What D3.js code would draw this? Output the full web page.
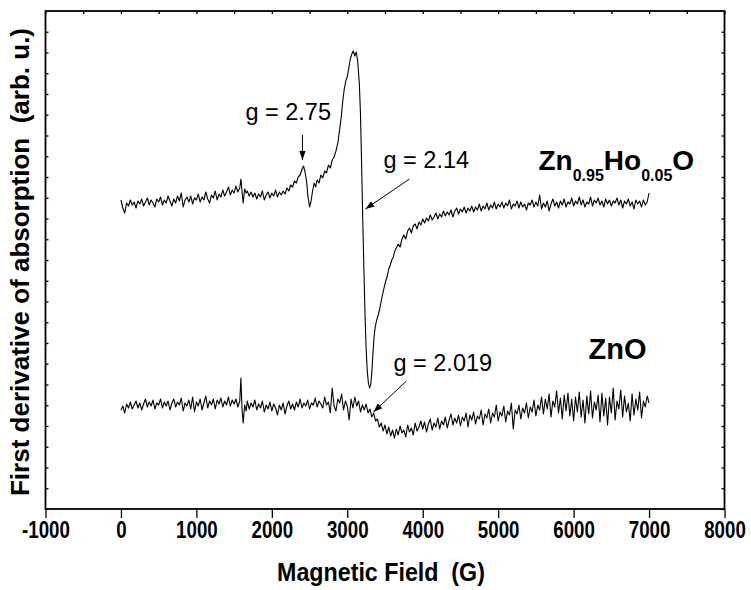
<!DOCTYPE html>
<html><head><meta charset="utf-8">
<script src="https://cdn.jsdelivr.net/npm/d3@7"></script>
<style>body{margin:0;background:#fff}svg{display:block}text{font-family:"Liberation Sans",Arial,sans-serif;white-space:pre}</style>
</head><body><svg id="c" width="751" height="590"></svg>
<script>
const xTicks=[-1000,0,1000,2000,3000,4000,5000,6000,7000,8000];
const xLabel="Magnetic Field  (G)";
const yLabel="First derivative of absorption  (arb. u.)";
const hoSeries=[[0,309],[25,301],[50,296],[75,306],[100,303],[125,309],[150,304],[175,307],[200,301],[225,308],[250,305],[275,310],[300,303],[325,307],[350,311],[375,304],[400,309],[425,306],[450,302],[475,310],[500,307],[525,312],[550,304],[575,309],[600,306],[625,313],[650,308],[675,303],[700,310],[725,306],[750,313],[775,308],[800,316],[825,302],[850,309],[875,312],[900,307],[925,313],[950,305],[975,311],[1000,309],[1025,315],[1050,307],[1075,312],[1100,309],[1125,317],[1150,310],[1175,306],[1200,314],[1225,311],[1250,318],[1275,309],[1300,315],[1325,312],[1350,319],[1375,313],[1400,317],[1425,322],[1450,314],[1475,319],[1500,316],[1525,323],[1550,317],[1575,321],[1590,330],[1605,318],[1620,306],[1640,320],[1660,316],[1675,318],[1700,313],[1725,317],[1750,312],[1775,316],[1800,310],[1825,315],[1850,312],[1875,318],[1900,309],[1925,314],[1950,317],[1975,311],[2000,316],[2025,313],[2050,319],[2075,312],[2100,317],[2125,314],[2150,318],[2175,315],[2200,321],[2225,318],[2250,324],[2275,322],[2300,328],[2325,326],[2350,332],[2375,334],[2400,340],[2420,343],[2440,337],[2460,328],[2480,312],[2500,302],[2520,308],[2540,318],[2560,326],[2580,322],[2600,329],[2625,326],[2650,334],[2675,331],[2700,338],[2725,336],[2750,344],[2775,341],[2800,349],[2825,352],[2850,358],[2875,366],[2900,380],[2920,392],[2940,408],[2960,420],[2980,428],[3000,432],[3020,441],[3040,450],[3060,455],[3080,458],[3100,453],[3120,457],[3140,446],[3160,425],[3175,395],[3190,345],[3205,290],[3220,240],[3235,195],[3250,160],[3265,138],[3280,126],[3295,121],[3310,124],[3325,136],[3340,155],[3355,172],[3370,182],[3390,189],[3410,194],[3430,200],[3450,208],[3470,215],[3490,222],[3510,228],[3530,233],[3550,240],[3570,244],[3590,249],[3610,252],[3630,258],[3650,261],[3675,265],[3700,262],[3725,270],[3750,274],[3775,270],[3800,278],[3825,281],[3850,276],[3875,283],[3900,285],[3925,280],[3950,287],[3975,284],[4000,290],[4025,286],[4050,291],[4075,288],[4100,294],[4125,289],[4150,292],[4175,296],[4200,290],[4225,295],[4250,292],[4275,298],[4300,293],[4325,297],[4350,294],[4375,299],[4400,292],[4425,298],[4450,301],[4475,295],[4500,300],[4525,297],[4550,302],[4575,296],[4600,301],[4625,298],[4650,303],[4675,297],[4700,302],[4725,299],[4750,305],[4775,298],[4800,303],[4825,300],[4850,306],[4875,299],[4900,304],[4925,301],[4950,307],[4975,300],[5000,305],[5025,302],[5050,307],[5075,301],[5100,306],[5125,303],[5150,309],[5175,300],[5200,305],[5225,303],[5250,308],[5275,301],[5300,307],[5325,302],[5350,305],[5375,299],[5400,306],[5425,304],[5450,309],[5475,302],[5500,307],[5525,303],[5550,314],[5575,300],[5600,306],[5625,302],[5650,308],[5675,298],[5700,305],[5725,310],[5750,303],[5775,307],[5800,301],[5825,308],[5850,304],[5875,310],[5900,302],[5925,307],[5950,305],[5975,311],[6000,303],[6025,308],[6050,305],[6075,312],[6100,304],[6125,309],[6150,302],[6175,307],[6200,305],[6225,312],[6250,303],[6275,309],[6300,306],[6325,311],[6350,304],[6375,308],[6400,302],[6425,310],[6450,305],[6475,309],[6500,303],[6525,308],[6550,306],[6575,311],[6600,304],[6625,309],[6650,301],[6675,308],[6700,305],[6725,310],[6750,303],[6775,307],[6800,300],[6825,309],[6850,305],[6875,308],[6900,302],[6925,309],[6950,304],[6975,307],[7000,316]];
const znoSeries=[[0,99],[25,103],[50,96],[75,105],[100,101],[125,107],[150,100],[175,104],[200,108],[225,101],[250,106],[275,99],[300,105],[325,110],[350,102],[375,107],[400,103],[425,109],[450,100],[475,106],[500,104],[525,110],[550,101],[575,107],[600,103],[625,108],[650,99],[675,106],[700,110],[725,102],[750,107],[775,104],[800,111],[825,98],[850,106],[875,103],[900,109],[925,100],[950,112],[975,97],[1000,107],[1025,103],[1050,110],[1075,99],[1100,106],[1125,113],[1150,101],[1175,108],[1200,104],[1225,110],[1250,100],[1275,109],[1300,105],[1325,111],[1350,102],[1375,108],[1400,104],[1425,112],[1450,103],[1475,109],[1500,105],[1525,110],[1550,102],[1575,108],[1590,131],[1605,100],[1620,86],[1640,104],[1660,98],[1675,108],[1700,100],[1725,106],[1750,102],[1775,109],[1800,99],[1825,105],[1850,101],[1875,108],[1900,97],[1925,104],[1950,100],[1975,107],[2000,98],[2025,105],[2050,101],[2075,94],[2100,104],[2125,99],[2150,106],[2175,95],[2200,103],[2225,108],[2250,100],[2275,105],[2300,99],[2325,107],[2350,102],[2375,110],[2400,101],[2425,106],[2450,103],[2475,109],[2500,100],[2525,106],[2550,104],[2575,111],[2600,102],[2625,108],[2650,105],[2675,101],[2700,112],[2725,104],[2750,107],[2775,96],[2800,121],[2825,103],[2850,98],[2875,110],[2900,106],[2925,115],[2950,99],[2975,108],[3000,103],[3025,89],[3050,110],[3075,101],[3100,112],[3125,103],[3150,108],[3175,97],[3200,104],[3225,99],[3250,105],[3275,96],[3300,100],[3325,92],[3350,96],[3375,88],[3400,90],[3425,82],[3450,86],[3475,78],[3500,84],[3525,75],[3550,82],[3575,73],[3600,79],[3625,71],[3650,80],[3675,74],[3700,83],[3725,76],[3750,79],[3775,72],[3800,84],[3825,77],[3850,81],[3875,74],[3900,86],[3925,78],[3950,82],[3975,88],[4000,80],[4025,87],[4050,77],[4075,85],[4100,90],[4125,79],[4150,86],[4175,82],[4200,91],[4225,80],[4250,88],[4275,84],[4300,92],[4325,81],[4350,89],[4375,95],[4400,84],[4425,91],[4450,86],[4475,94],[4500,83],[4525,92],[4550,88],[4575,96],[4600,82],[4625,94],[4650,89],[4675,97],[4700,85],[4725,93],[4750,90],[4775,99],[4800,84],[4825,95],[4850,91],[4875,100],[4900,86],[4925,96],[4950,92],[4975,104],[5000,88],[5025,97],[5050,93],[5075,103],[5100,87],[5125,98],[5150,94],[5175,106],[5200,80],[5225,99],[5250,95],[5275,104],[5300,90],[5325,101],[5350,96],[5375,106],[5400,91],[5425,102],[5450,97],[5475,109],[5500,93],[5525,104],[5550,99],[5575,112],[5600,95],[5625,110],[5650,100],[5675,115],[5700,92],[5725,108],[5750,102],[5775,118],[5800,96],[5825,111],[5850,90],[5875,114],[5900,98],[5925,116],[5950,93],[5975,110],[6000,88],[6025,112],[6050,97],[6075,117],[6100,92],[6125,109],[6150,86],[6175,113],[6200,95],[6225,118],[6250,91],[6275,107],[6300,99],[6325,114],[6350,87],[6375,116],[6400,93],[6425,111],[6450,84],[6475,112],[6500,96],[6525,121],[6550,89],[6575,108],[6600,100],[6625,119],[6650,92],[6675,113],[6700,97],[6725,106],[6750,88],[6775,115],[6800,94],[6825,110],[6850,99],[6875,117],[6900,91],[6925,108],[6950,102],[6975,113],[7000,106]];
// annotations: [text, x, y] and arrows [x1,y1,x2,y2] in data units
const gLabels=[["g = 2.75",1650,389],["g = 2.14",3480,341],["g = 2.019",3612,138]];
const gArrows=[[2406,374,2406,349],[3824,330,3241,300],[3784,128,3347,97]];

const W=751,H=590,m={l:45.5,t:11,r:26.5,b:81};
const w=W-m.l-m.r,h=H-m.t-m.b;
const svg=d3.select("#c");
const x=d3.scaleLinear().domain([-1000,8000]).range([0,w]);
const y=d3.scaleLinear().domain([0,498]).range([h,0]);
const g=svg.append("g").attr("transform",`translate(${m.l},${m.t})`);
const minor=d3.range(-1000,8001,500);
const yTickVals=d3.range(0,498,20.75);

// bottom axis
const bx=g.append("g").attr("transform",`translate(0,${h})`);
bx.call(d3.axisBottom(x).tickValues(minor).tickSize(5).tickFormat(""));
bx.call(d3.axisBottom(x).tickValues(xTicks).tickSize(9).tickPadding(3).tickFormat(d=>String(d)));
bx.selectAll("text").attr("font-size",24).attr("font-weight","bold").attr("fill","#000")
  .attr("font-family","Liberation Sans, Arial").attr("transform","scale(0.78,1)");
// top axis
g.append("g").call(d3.axisBottom(x).tickValues(minor).tickSize(3).tickFormat(""));
// left/right
g.append("g").call(d3.axisRight(y).tickValues(yTickVals).tickSize(3).tickFormat(""));
g.append("g").attr("transform",`translate(${w},0)`).call(d3.axisLeft(y).tickValues(yTickVals).tickSize(3).tickFormat(""));
g.selectAll(".domain").remove();
g.selectAll(".tick line").attr("stroke","#000").attr("stroke-width",1.3);
g.append("rect").attr("width",w).attr("height",h).attr("fill","none").attr("stroke","#000").attr("stroke-width",1.8);

const line=d3.line().x(d=>x(d[0])).y(d=>y(d[1]));
[hoSeries,znoSeries].forEach(s=>g.append("path").datum(s).attr("d",line).attr("fill","none").attr("stroke","#000").attr("stroke-width",1.1).attr("stroke-linejoin","round"));

svg.append("defs").append("marker").attr("id","ah").attr("viewBox","0 0 10 10").attr("refX",10).attr("refY",5)
  .attr("markerWidth",9).attr("markerHeight",9).attr("markerUnits","userSpaceOnUse").attr("orient","auto")
  .append("path").attr("d","M0,1.5L10,5L0,8.5Z").attr("fill","#000");
gArrows.forEach(a=>g.append("line").attr("x1",x(a[0])).attr("y1",y(a[1])).attr("x2",x(a[2])).attr("y2",y(a[3])).attr("stroke","#000").attr("stroke-width",1).attr("marker-end","url(#ah)"));
gLabels.forEach(t=>g.append("text").attr("x",x(t[1])).attr("y",y(t[2])).attr("font-size",23.5).text(t[0]));

// sample labels
const sl=g.append("text").attr("x",x(5534)).attr("y",y(339)).attr("font-size",28).attr("font-weight","bold");
sl.append("tspan").text("Zn");
sl.append("tspan").attr("font-size",16).attr("dy",11).text("0.95");
sl.append("tspan").attr("dy",-11).text("Ho");
sl.append("tspan").attr("font-size",16).attr("dy",11).text("0.05");
sl.append("tspan").attr("dy",-11).text("O");
g.append("text").attr("x",x(6197)).attr("y",y(150)).attr("font-size",29).attr("font-weight","bold").text("ZnO");

svg.append("text").attr("transform",`translate(${m.l+w/2-4},581) scale(0.93,1)`).attr("text-anchor","middle").attr("font-size",25).attr("font-weight","bold").text(xLabel);
svg.append("text").attr("transform",`translate(29,${m.t+h/2+2}) rotate(-90)`).attr("text-anchor","middle").attr("font-size",26).attr("font-weight","bold").text(yLabel);
</script></body></html>
